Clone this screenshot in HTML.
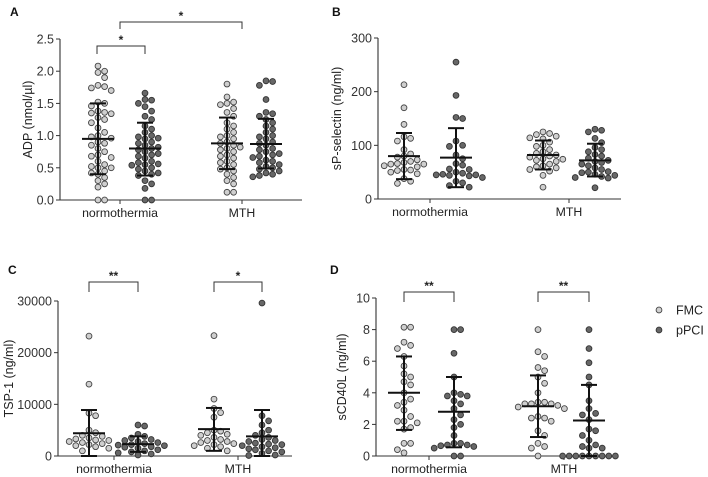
<!DOCTYPE html>
<html><head><meta charset="utf-8">
<style>
html,body{margin:0;padding:0;background:#fff;}
svg{display:block;font-family:"Liberation Sans",Arial,sans-serif;}
</style></head>
<body>
<svg id="fig" width="708" height="477" viewBox="0 0 708 477" xmlns="http://www.w3.org/2000/svg"></svg>
<script>
// ---------- DATA ----------
const groups = ["normothermia", "MTH"];
const seriesNames = ["FMC", "pPCI"];

const adpTicks = [0, 0.5, 1.0, 1.5, 2.0, 2.5];
const adpFmcNormo = [2.08,2.0,1.98,1.9,1.78,1.76,1.74,1.7,1.52,1.5,1.46,1.38,1.36,1.34,1.35,1.28,1.25,1.2,1.12,1.05,1.0,0.98,0.96,0.9,0.88,0.85,0.8,0.75,0.7,0.68,0.66,0.6,0.55,0.52,0.5,0.5,0.45,0.42,0.4,0.35,0.3,0.25,0.2,0,0];
const adpPciNormo = [1.66,1.56,1.55,1.5,1.45,1.38,1.3,1.25,1.15,1.1,1.05,1.0,0.98,0.96,0.95,0.9,0.88,0.85,0.82,0.8,0.78,0.75,0.72,0.7,0.68,0.65,0.6,0.58,0.56,0.55,0.54,0.5,0.48,0.45,0.42,0.4,0.38,0.3,0.25,0.18,0,0];
const adpFmcMth = [1.8,1.6,1.52,1.5,1.48,1.42,1.36,1.3,1.2,1.15,1.1,1.05,1.0,0.98,0.95,0.9,0.88,0.85,0.82,0.8,0.78,0.75,0.7,0.68,0.65,0.6,0.58,0.55,0.5,0.48,0.45,0.4,0.35,0.3,0.25,0.12,0.12];
const adpPciMth = [1.85,1.84,1.78,1.56,1.36,1.34,1.3,1.25,1.2,1.15,1.1,1.05,1.0,0.98,0.95,0.9,0.88,0.85,0.8,0.78,0.75,0.72,0.7,0.68,0.66,0.62,0.6,0.58,0.55,0.52,0.5,0.48,0.45,0.42,0.4,0.38,0.36];
const adpMeans = [0.95, 0.80, 0.88, 0.87];
const adpUpper = [1.50, 1.20, 1.28, 1.26];
const adpLower = [0.40, 0.38, 0.48, 0.49];

const selTicks = [0, 100, 200, 300];
const selFmcNormo = [213,170,139,116,113,108,92,84,80,78,73,70,68,66,65,65,62,60,55,54,53,50,47,38,33,29];
const selPciNormo = [255,193,152,150,108,100,98,82,75,66,63,56,55,50,48,46,45,45,44,43,40,33,30,25,22];
const selFmcMth = [125,122,120,117,114,112,106,100,98,92,88,85,82,80,78,75,74,72,70,65,62,60,58,55,52,44,22];
const selPciMth = [130,128,125,113,105,96,92,88,83,80,76,72,70,68,65,62,58,55,51,50,49,46,44,42,40,39,21];
const selMeans = [80, 77, 82, 72];
const selUpper = [123, 132, 109, 103];
const selLower = [37, 22, 55, 42];

const tspTicks = [0, 10000, 20000, 30000];
const tspFmcNormo = [23200,13900,8300,7800,5000,4500,4000,3800,3500,3300,3100,3000,2800,2600,2400,2200,2000,1800,1500,1000];
const tspPciNormo = [6000,5800,4200,3800,3500,3200,3000,2800,2600,2400,2200,2100,2000,1800,1700,1500,1200,1000,800,600,400,200];
const tspFmcMth = [23300,11000,9200,8400,7500,5000,4800,4500,4200,4000,3600,3200,3000,2800,2600,2400,2200,2000,1800,1500,1000];
const tspPciMth = [29600,7800,6800,6000,5000,4500,4000,3600,3200,3000,2800,2500,2300,2200,2000,1800,1600,1400,1200,1000,800,500,200,100];
const tspMeans = [4400, 2300, 5200, 3800];
const tspUpper = [8900, 3800, 9300, 8900];
const tspLower = [0, 800, 1000, 0];

const cdTicks = [0, 2, 4, 6, 8, 10];
const cdFmcNormo = [8.15,8.15,7.2,7.0,6.8,6.3,5.7,5.2,5.0,4.7,4.5,4.0,3.6,3.4,3.2,2.9,2.5,2.2,2.2,2.1,1.8,1.7,0.8,0.8,0.4,0.2];
const cdPciNormo = [8.0,8.0,6.5,5.0,4.0,3.9,3.8,3.8,3.5,3.3,3.0,2.6,2.3,2.0,1.8,1.3,0.8,0.8,0.7,0.7,0.65,0.6,0.5,0,0];
const cdFmcMth = [8.0,6.6,6.3,5.6,5.4,5.0,4.6,4.0,3.4,3.4,3.3,3.3,3.3,3.2,3.1,3.0,2.5,2.4,2.4,2.2,1.6,1.3,0.8,0.6,0.5,0];
const cdPciMth = [8.0,6.8,5.9,5.0,4.5,3.5,3.0,2.7,2.6,2.3,1.7,1.6,1.3,1.0,0.7,0.6,0.5,0.5,0,0,0,0,0,0,0,0,0];
const cdMeans = [4.0, 2.8, 3.15, 2.25];
const cdUpper = [6.3, 5.0, 5.1, 4.5];
const cdLower = [1.65, 0.55, 1.2, 0];

// ---------- DRAWING ----------
const NS = "http://www.w3.org/2000/svg";
const svg = document.getElementById("fig");
function mk(tag, attrs, parent, text) {
  const e = document.createElementNS(NS, tag);
  for (const k in attrs) e.setAttribute(k, attrs[k]);
  if (text !== undefined) e.textContent = text;
  (parent || svg).appendChild(e);
  return e;
}
const R = 2.9;
const AX = "#333";

function beeswarm(vals, yScale, cx) {
  const placed = [];
  const sorted = vals.slice().sort((a, b) => b - a);
  const out = [];
  sorted.forEach(v => {
    const y = yScale(v);
    let k = 0, x = cx;
    while (true) {
      const off = Math.ceil(k / 2) * (2 * R + 0.8) * (k % 2 ? 1 : -1);
      x = cx + off;
      const ok = placed.every(p => Math.hypot(p[0] - x, p[1] - y) >= 2 * R + 0.6);
      if (ok || k > 20) break;
      k++;
    }
    placed.push([x, y]);
    out.push([x, y, v]);
  });
  return out;
}

function panel(cfg) {
  const g = mk("g", {}, svg);
  
  
  const y = v => cfg.y0 - (v - cfg.tMin) / (cfg.tMax - cfg.tMin) * (cfg.y0 - cfg.y1);
  const lt = mk("text", {x: cfg.letter[1], y: cfg.letter[2], "font-size": 12, "font-weight": "bold", fill: "#111"}, g, cfg.letter[0]);
  
  
  const ya = mk("line", {x1: cfg.ax, y1: cfg.y1, x2: cfg.ax, y2: cfg.y0, stroke: AX, "stroke-width": 1.1}, g);
  
  
  cfg.ticks.forEach((t, i) => {
    const yy = y(t);
    mk("line", {x1: cfg.ax - 4, y1: yy, x2: cfg.ax, y2: yy, stroke: AX, "stroke-width": 1}, g);
    const tl = mk("text", {x: cfg.ax - 6, y: yy + 4.5, "font-size": 12.5, "text-anchor": "end", fill: "#333"}, g, cfg.tickLabels[i]);
    
    
  });
  const xa = mk("line", {x1: cfg.ax, y1: cfg.y0, x2: cfg.xEnd, y2: cfg.y0, stroke: AX, "stroke-width": 1.1}, g);
  
  
  groups.forEach((gname, i) => {
    const cx = cfg.catX[i];
    mk("line", {x1: cx, y1: cfg.y0, x2: cx, y2: cfg.y0 + 4, stroke: AX, "stroke-width": 1}, g);
    const cl = mk("text", {x: cx, y: cfg.y0 + 17, "font-size": 12.3, "text-anchor": "middle", fill: "#222"}, g, gname);
    
    
  });
  const yt = mk("text", {x: 0, y: 0, "font-size": 12.5, "text-anchor": "middle", fill: "#222",
    transform: `translate(${cfg.titleX},${(cfg.y0 + cfg.y1) / 2}) rotate(-90)`}, g, cfg.title);
  
  
  cfg.series.forEach((vals, si) => {
    const cx = cfg.gx[si];
    const fmc = si % 2 === 0;
    const pts = beeswarm(vals, y, cx);
    pts.forEach(p => {
      const c = mk("circle", {cx: p[0], cy: p[1], r: R, fill: fmc ? "#cfcfcf" : "#676767", stroke: fmc ? "#444" : "#333", "stroke-width": 0.9}, g);
      
      
    });
    const ym = y(cfg.means[si]), yu = y(cfg.upper[si]), yl = y(cfg.lower[si]);
    const st = {stroke: "#111", "stroke-width": 2};
    const ml = mk("line", Object.assign({x1: cx - 16, y1: ym, x2: cx + 16, y2: ym}, st), g);
    
    
    const sl = mk("line", Object.assign({x1: cx, y1: yu, x2: cx, y2: yl}, st), g);
    
    
    mk("line", Object.assign({x1: cx - 8, y1: yu, x2: cx + 8, y2: yu}, st), g);
    mk("line", Object.assign({x1: cx - 8, y1: yl, x2: cx + 8, y2: yl}, st), g);
  });
  cfg.brackets.forEach(b => {
    const br = mk("path", {d: `M${b[0]},${b[3]} V${b[2]} H${b[1]} V${b[3]}`, fill: "none", stroke: "#333", "stroke-width": 1}, g);
    
    
    const s = mk("text", {x: (b[0] + b[1]) / 2, y: b[2] - 2, "font-size": 12, "font-weight": "bold", "text-anchor": "middle", fill: "#222"}, g, b[4]);
    
    
  });
}

panel({name: "panel-a-adp", letter: ["A", 10, 16], ax: 60, xEnd: 302, y0: 200, y1: 39, tMin: 0, tMax: 2.5,
  ticks: adpTicks, tickLabels: adpTicks.map(t => t.toFixed(1)), catX: [120, 242], gx: [98, 145, 227, 266],
  title: "ADP (nmol/µl)", titleX: 32,
  series: [adpFmcNormo, adpPciNormo, adpFmcMth, adpPciMth], means: adpMeans, upper: adpUpper, lower: adpLower,
  brackets: [[97, 145, 46, 54, "*"], [120, 242, 22, 29, "*"]]});

panel({name: "panel-b-sp-selectin", letter: ["B", 332, 16], ax: 378, xEnd: 621, y0: 199, y1: 38, tMin: 0, tMax: 300,
  ticks: selTicks, tickLabels: selTicks.map(String), catX: [430, 569], gx: [404, 456, 543, 595],
  title: "sP-selectin (ng/ml)", titleX: 341,
  series: [selFmcNormo, selPciNormo, selFmcMth, selPciMth], means: selMeans, upper: selUpper, lower: selLower,
  brackets: []});

panel({name: "panel-c-tsp1", letter: ["C", 8, 274], ax: 58, xEnd: 292, y0: 456, y1: 301, tMin: 0, tMax: 30000,
  ticks: tspTicks, tickLabels: tspTicks.map(String), catX: [114, 238], gx: [89, 138, 214, 262],
  title: "TSP-1 (ng/ml)", titleX: 13,
  series: [tspFmcNormo, tspPciNormo, tspFmcMth, tspPciMth], means: tspMeans, upper: tspUpper, lower: tspLower,
  brackets: [[89, 138, 282, 292, "**"], [214, 262, 282, 292, "*"]]});

panel({name: "panel-d-scd40l", letter: ["D", 330, 274], ax: 376, xEnd: 614, y0: 456, y1: 298, tMin: 0, tMax: 10,
  ticks: cdTicks, tickLabels: cdTicks.map(String), catX: [429, 564], gx: [404, 454, 538, 589],
  title: "sCD40L (ng/ml)", titleX: 346,
  series: [cdFmcNormo, cdPciNormo, cdFmcMth, cdPciMth], means: cdMeans, upper: cdUpper, lower: cdLower,
  brackets: [[404, 454, 292, 302, "**"], [538, 589, 292, 302, "**"]]});

const lg = mk("g", {}, svg);


seriesNames.forEach((n, i) => {
  const yy = 310 + i * 20;
  const c = mk("circle", {cx: 659, cy: yy, r: R, fill: i ? "#676767" : "#cfcfcf", stroke: i ? "#333" : "#444", "stroke-width": 0.9}, lg);
  
  
  const t = mk("text", {x: 676, y: yy + 4.5, "font-size": 12.5, fill: "#222"}, lg, n);
  
  
});
</script>
</body></html>
